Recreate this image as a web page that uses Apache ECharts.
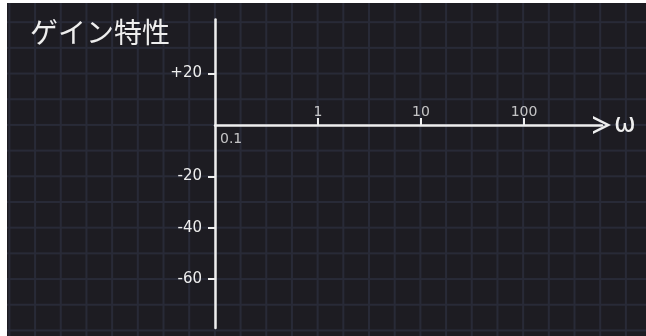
<!DOCTYPE html>
<html>
<head>
<meta charset="utf-8">
<script src="https://cdn.jsdelivr.net/npm/echarts@6/dist/echarts.min.js"></script>
<style>
  html, body { margin: 0; padding: 0; background: #ffffff; }
  .board {
    position: absolute; left: 7px; top: 3px; width: 639px; height: 333px;
    background-color: #1d1c22;
    background-image:
      linear-gradient(to right, #282a37 2px, transparent 2px),
      linear-gradient(to bottom, #282a37 2px, transparent 2px);
    background-size: 25.7px 25.7px;
    background-position: 1.4px 18.2px;
  }
  #chart { position: absolute; left: 0; top: 0; width: 646px; height: 336px; }
</style>
</head>
<body>
<div class="board"></div>
<div id="chart"></div>
<script>
// ゲイン特性 (empty Bode gain plot axes)
const titleText = 'ゲイン特性';
const yTicks = [20, -20, -40, -60];
const yRange = [-79, 41];
const xTicks = [1, 10, 100];
const xStartLabel = [0.1];
const xRange = [0.1, 572];
const xName = 'ω';

const ink = '#eeeeee';
const font = 'DejaVu Sans';

const chart = echarts.init(document.getElementById('chart'));

const option = {
  backgroundColor: 'transparent',
  animation: false,
  title: {
    text: titleText,
    left: 30,
    top: 18,
    padding: 0,
    textStyle: { color: ink, fontSize: 28, fontWeight: 'normal', fontFamily: 'Noto Sans CJK JP' }
  },
  grid: { left: 215, right: 44, top: 19.6, bottom: 8, containLabel: false },
  xAxis: {
    type: 'log',
    min: xRange[0],
    max: xRange[1],
    name: xName,
    nameLocation: 'end',
    nameGap: 12,
    nameTextStyle: { color: ink, fontSize: 26, fontFamily: font, verticalAlign: 'middle', padding: [0, 0, 4, 0] },
    axisLine: {
      onZero: true,
      lineStyle: { color: ink, width: 2.5 },
      symbol: ['none', 'path://M0,20 L10,0 L20,20 L17,20 L10,6 L3,20 Z'],
      symbolSize: [18, 19]
    },
    axisTick: { show: true, inside: true, length: 7, lineStyle: { color: ink, width: 2 }, customValues: xTicks },
    axisLabel: { show: false },
    splitLine: { show: false },
    minorSplitLine: { show: false }
  },
  yAxis: {
    type: 'value',
    min: yRange[0],
    max: yRange[1],
    axisLine: { show: true, onZero: false, lineStyle: { color: ink, width: 2.5 } },
    axisTick: { show: true, length: 7, lineStyle: { color: ink, width: 2 }, customValues: yTicks },
    axisLabel: {
      show: true, margin: 13, color: ink, fontSize: 15, fontFamily: font,
      customValues: yTicks,
      formatter: (v) => (v > 0 ? '+' + v : String(v))
    },
    splitLine: { show: false }
  },
  series: [
    {
      // x tick labels, written above the axis line
      type: 'scatter',
      silent: true,
      symbolSize: 0,
      data: xTicks.map((v) => [v, 0]),
      label: {
        show: true, position: 'top', distance: 6,
        color: ink, fontSize: 14, fontFamily: font,
        formatter: (p) => String(p.value[0])
      }
    },
    {
      // start value under the origin
      type: 'scatter',
      silent: true,
      symbolSize: 0,
      data: xStartLabel.map((v) => [v, 0]),
      label: {
        show: true, position: [5, 7],
        color: ink, fontSize: 14, fontFamily: font,
        formatter: (p) => String(p.value[0])
      }
    }
  ]
};

chart.setOption(option);
</script>
</body>
</html>
